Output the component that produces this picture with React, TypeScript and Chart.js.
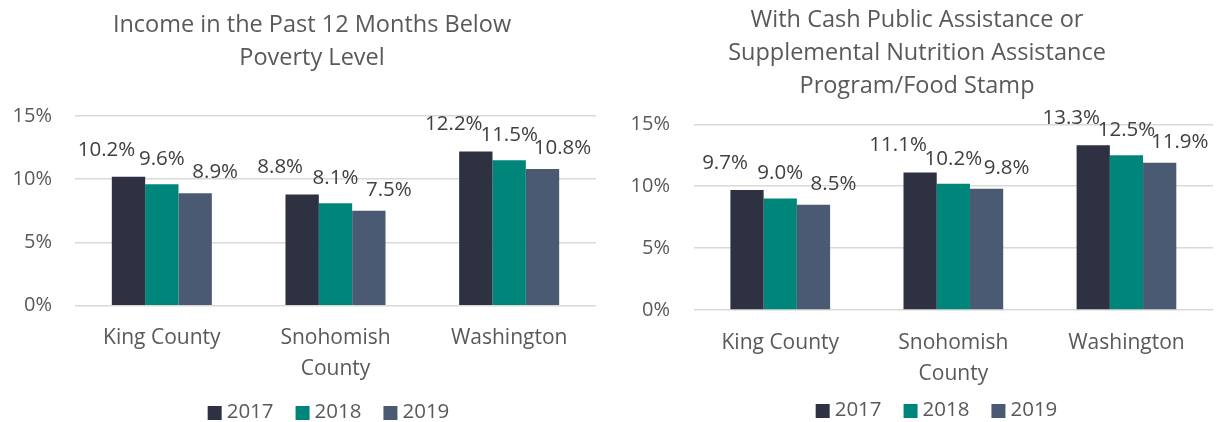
import React, { useEffect, useRef } from 'react';
import { Chart, registerables } from 'chart.js';

Chart.register(...registerables);

// ---------- data ----------
const categories: (string | string[])[] = ['King County', ['Snohomish', 'County'], 'Washington'];
const years = ['2017', '2018', '2019'];

const povertyTitle = ['Income in the Past 12 Months Below', 'Poverty Level'];
const poverty2017 = [10.2, 8.8, 12.2];
const poverty2018 = [9.6, 8.1, 11.5];
const poverty2019 = [8.9, 7.5, 10.8];

const assistTitle = [
  'With Cash Public Assistance or',
  'Supplemental Nutrition Assistance',
  'Program/Food Stamp',
];
const assist2017 = [9.7, 11.1, 13.3];
const assist2018 = [9.0, 10.2, 12.5];
const assist2019 = [8.5, 9.8, 11.9];

const yMin = 0;
const yMax = 15;
const yStep = 5;

// ---------- style ----------
const FONT = "'Open Sans', 'Noto Sans', sans-serif";
const barColors = ['#2E3142', '#00857B', '#4A5A73'];
const textGray = '#595959';
const labelGray = '#404040';
const gridGray = '#D9D9D9';
const labelDx = [-22, 0, 20];
const labelDy = [27, 25, 21];

interface PanelLayout {
  canvasLeft: number;
  canvasWidth: number;
  axisWidth: number;
  tickPad: number;
  padRight: number;
  plotTop: number;
  titleCenterX: number;
  titleFirstY: number;
  titleLineGap: number;
  xAxisHeight: number;
  xTickPad: number;
  padBottom: number;
  legendCenterX: number;
  legendY: number;
}

const H = 422;

function BarPanel({ title, series, layout }: { title: string[]; series: number[][]; layout: PanelLayout }) {
  const ref = useRef<HTMLCanvasElement | null>(null);

  useEffect(() => {
    if (!ref.current) return;

    const labelPlugin = {
      id: 'valueLabels',
      afterDatasetsDraw(chart: any) {
        const ctx = chart.ctx;
        ctx.save();
        ctx.font = `20.5px ${FONT}`;
        ctx.fillStyle = labelGray;
        ctx.textAlign = 'center';
        ctx.textBaseline = 'middle';
        chart.data.datasets.forEach((ds: any, i: number) => {
          const meta = chart.getDatasetMeta(i);
          meta.data.forEach((bar: any, j: number) => {
            const v = ds.data[j] as number;
            ctx.fillText(v.toFixed(1) + '%', bar.x + labelDx[i], bar.y - labelDy[i]);
          });
        });
        ctx.restore();
      },
    };

    const titlePlugin = {
      id: 'panelTitle',
      afterDraw(chart: any) {
        const ctx = chart.ctx;
        ctx.save();
        ctx.font = `23.5px ${FONT}`;
        ctx.fillStyle = textGray;
        ctx.textAlign = 'center';
        ctx.textBaseline = 'middle';
        title.forEach((line, i) => {
          ctx.fillText(line, layout.titleCenterX, layout.titleFirstY + i * layout.titleLineGap);
        });
        ctx.restore();
      },
    };

    const legendPlugin = {
      id: 'customLegend',
      afterDraw(chart: any) {
        const ctx = chart.ctx;
        ctx.save();
        ctx.font = `20.5px ${FONT}`;
        ctx.textBaseline = 'middle';
        ctx.textAlign = 'left';
        const box = 14;
        const gap = 5;
        const itemGap = 22;
        const widths = chart.data.datasets.map((ds: any) => box + gap + ctx.measureText(ds.label).width);
        const total = widths.reduce((a: number, b: number) => a + b, 0) + itemGap * (widths.length - 1);
        let x = layout.legendCenterX - total / 2;
        chart.data.datasets.forEach((ds: any, i: number) => {
          ctx.fillStyle = ds.backgroundColor;
          ctx.fillRect(x, layout.legendY - box / 2 + 1, box, box);
          ctx.fillStyle = textGray;
          ctx.fillText(ds.label, x + box + gap, layout.legendY);
          x += widths[i] + itemGap;
        });
        ctx.restore();
      },
    };

    const chart = new Chart(ref.current, {
      type: 'bar',
      data: {
        labels: categories as any,
        datasets: series.map((s, i) => ({
          label: years[i],
          data: s,
          backgroundColor: barColors[i],
          borderWidth: 0,
          categoryPercentage: 0.576,
          barPercentage: 1.0,
        })),
      },
      options: {
        responsive: false,
        animation: false,
        devicePixelRatio: 1,
        layout: {
          padding: { left: 0, right: layout.padRight, top: layout.plotTop, bottom: layout.padBottom },
        },
        plugins: {
          legend: { display: false },
          tooltip: { enabled: false },
          title: { display: false },
        },
        scales: {
          x: {
            grid: { display: false },
            border: { display: false },
            ticks: {
              color: textGray,
              font: { family: FONT, size: 21, lineHeight: 31 / 21 },
              padding: layout.xTickPad,
              maxRotation: 0,
              autoSkip: false,
            },
            afterFit(scale: any) {
              scale.height = layout.xAxisHeight;
            },
          },
          y: {
            min: yMin,
            max: yMax,
            grid: { color: gridGray, lineWidth: 1.6, drawTicks: false },
            border: { display: false },
            ticks: {
              stepSize: yStep,
              color: textGray,
              font: { family: FONT, size: 20 },
              padding: layout.tickPad,
              callback: (v: any) => `${v}%`,
            },
            afterFit(scale: any) {
              scale.width = layout.axisWidth;
            },
          },
        },
      } as any,
      plugins: [labelPlugin, titlePlugin, legendPlugin],
    });

    return () => chart.destroy();
  }, []);

  return (
    <canvas
      ref={ref}
      width={layout.canvasWidth}
      height={H}
      style={{ position: 'absolute', left: layout.canvasLeft, top: 0, width: layout.canvasWidth, height: H }}
    />
  );
}

const leftLayout: PanelLayout = {
  canvasLeft: 0,
  canvasWidth: 624,
  axisWidth: 75,
  tickPad: 23,
  padRight: 28,
  plotTop: 116,
  titleCenterX: 312,
  titleFirstY: 25,
  titleLineGap: 33,
  xAxisHeight: 80,
  xTickPad: 8.5,
  padBottom: 36.3,
  legendCenterX: 328.5,
  legendY: 412,
};

const rightLayout: PanelLayout = {
  canvasLeft: 618,
  canvasWidth: 598,
  axisWidth: 75.7,
  tickPad: 23.7,
  padRight: 3,
  plotTop: 124.3,
  titleCenterX: 299,
  titleFirstY: 20.5,
  titleLineGap: 33,
  xAxisHeight: 80,
  xTickPad: 10,
  padBottom: 32,
  legendCenterX: 318.5,
  legendY: 410,
};

export default function App() {
  return (
    <div style={{ position: 'absolute', left: 0, top: 0, width: 1216, height: 422, background: '#fff', overflow: 'hidden' }}>
      <BarPanel title={povertyTitle} series={[poverty2017, poverty2018, poverty2019]} layout={leftLayout} />
      <BarPanel title={assistTitle} series={[assist2017, assist2018, assist2019]} layout={rightLayout} />
    </div>
  );
}
